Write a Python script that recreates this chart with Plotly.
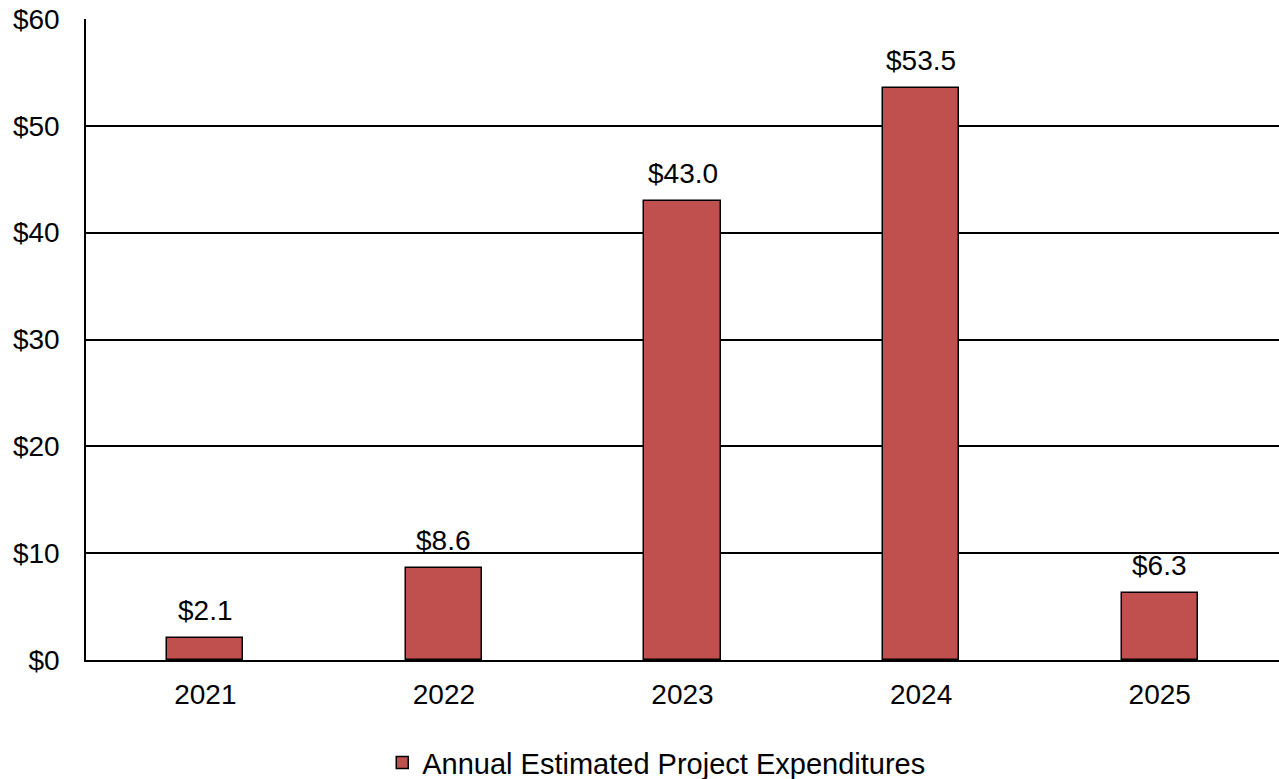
import plotly.graph_objects as go

years = ["2021", "2022", "2023", "2024", "2025"]
expenditures = [2.1, 8.6, 43.0, 53.5, 6.3]
y_ticks = [0, 10, 20, 30, 40, 50, 60]
y_tick_labels = ["$" + str(v) for v in y_ticks]
series_name = "Annual Estimated Project Expenditures"

font_family = "Liberation Sans, Arial, sans-serif"
font_size = 28

fig = go.Figure(
    go.Bar(
        x=years,
        y=expenditures,
        name=series_name,
        width=0.32,
        marker=dict(color="#C0504D", line=dict(color="black", width=1.5)),
        showlegend=True,
    )
)

# value labels sit a little above each bar top
# (category positions are given by index so year strings are not read as numbers)
for idx, v in enumerate(expenditures):
    fig.add_annotation(
        x=idx,
        y=v,
        text="$" + f"{v:.1f}",
        showarrow=False,
        yanchor="bottom",
        yshift=10,
        font=dict(size=font_size, color="black", family=font_family),
    )

fig.update_layout(
    width=1279,
    height=779,
    margin=dict(l=86, r=0, t=19, b=119, autoexpand=False),
    plot_bgcolor="white",
    paper_bgcolor="white",
    font=dict(family=font_family, size=font_size, color="black"),
    showlegend=True,
    legend=dict(
        orientation="h",
        x=0.478,
        xanchor="center",
        y=-0.16,
        yanchor="middle",
        font=dict(size=29),
        itemwidth=30,
    ),
    bargap=0,
)

fig.update_xaxes(
    type="category",
    range=[-0.5, len(years) - 0.5],
    showline=True,
    linecolor="black",
    linewidth=1.5,
    ticks="",
    ticklabelstandoff=9,
    tickfont=dict(size=font_size),
    automargin=False,
)
fig.update_yaxes(
    range=[0, 60],
    tickvals=y_ticks,
    ticktext=y_tick_labels,
    showgrid=True,
    gridcolor="black",
    gridwidth=1.5,
    showline=True,
    linecolor="black",
    linewidth=1.5,
    ticks="",
    ticklabelstandoff=19,
    zeroline=False,
    tickfont=dict(size=font_size),
    automargin=False,
)

fig.write_html("out.html")
